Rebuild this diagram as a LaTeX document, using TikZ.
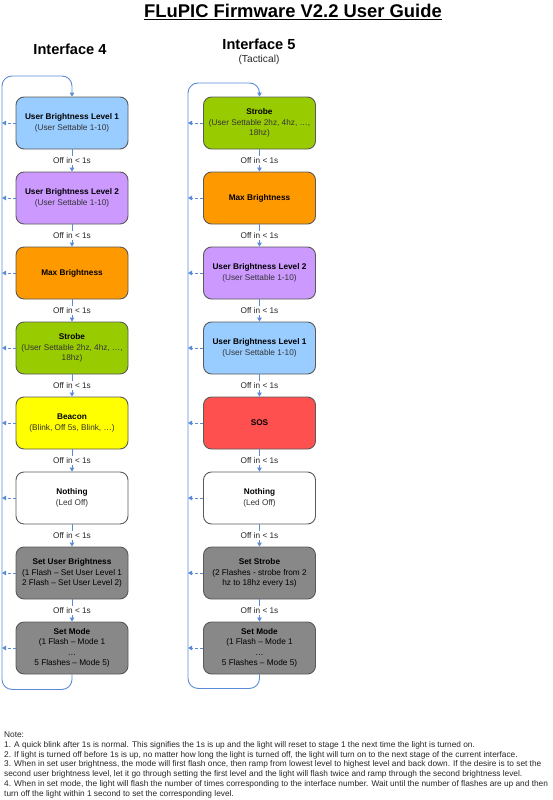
\documentclass[tikz,border=0pt]{standalone}
\usepackage{fontspec}
\setmainfont{Liberation Sans}
\usetikzlibrary{arrows.meta}
\definecolor{lineblue}{RGB}{91,139,214}
\definecolor{cblue}{RGB}{153,204,255}
\definecolor{cpurple}{RGB}{204,153,255}
\definecolor{corange}{RGB}{255,153,0}
\definecolor{cgreen}{RGB}{153,204,0}
\definecolor{cyellow}{RGB}{255,255,0}
\definecolor{cred}{RGB}{255,80,80}
\definecolor{cgray}{RGB}{136,136,136}
\definecolor{bordergray}{RGB}{90,90,90}
\newcommand{\subtxt}[1]{{\color{black!80}#1}}
\begin{document}
\begin{tikzpicture}[x=1pt,y=-1pt,
  state/.style={draw=bordergray, line width=0.9pt, rounded corners=8pt,
    minimum width=112pt, minimum height=52pt, inner sep=0pt, align=center,
    font=\fontsize{8.25}{10.3}\selectfont, text=black},
  flow/.style={draw=lineblue, line width=0.9pt, -{Triangle[length=4pt,width=4.5pt]}},
  back/.style={draw=lineblue, line width=0.9pt, dash pattern=on 3pt off 2pt,
    -{Triangle[length=4pt,width=4.5pt]}},
  loop/.style={draw=lineblue, line width=0.9pt, rounded corners=10pt,
    -{Triangle[length=4pt,width=4.5pt]}},
  lbl/.style={fill=white, inner sep=1pt, font=\fontsize{8.25}{10}\selectfont, text=black!85},
  note/.style={anchor=base west, inner sep=0pt, font=\fontsize{8.3}{9.8}\selectfont, text=black!85}
]
\useasboundingbox (0,0) rectangle (553,800);

% title
\node[anchor=base, font=\bfseries\fontsize{18.4}{20}\selectfont] (title) at (293,18)
  {\underline{FLuPIC Firmware V2.2 User Guide}};
\node[anchor=base, font=\bfseries\fontsize{14.6}{16}\selectfont] (if4) at (70,55) {Interface 4};
\node[anchor=base, font=\bfseries\fontsize{14.6}{16}\selectfont] (if5) at (259,49) {Interface 5};
\node[anchor=base, font=\fontsize{10.2}{12}\selectfont, text=black!85] (tac) at (259,62.5) {(Tactical)};

% left column
\node[state, fill=cblue]   (L1) at (72,123) {\textbf{User Brightness Level 1}\\\subtxt{(User Settable 1-10)}};
\node[state, fill=cpurple] (L2) at (72,198) {\textbf{User Brightness Level 2}\\\subtxt{(User Settable 1-10)}};
\node[state, fill=corange] (L3) at (72,273) {\textbf{Max Brightness}};
\node[state, fill=cgreen]  (L4) at (72,348) {\textbf{Strobe}\\\subtxt{(User Settable 2hz, 4hz, …,}\\\subtxt{18hz)}};
\node[state, fill=cyellow] (L5) at (72,423) {\textbf{Beacon}\\\subtxt{(Blink, Off 5s, Blink, …)}};
\node[state, fill=white]   (L6) at (72,498) {\textbf{Nothing}\\\subtxt{(Led Off)}};
\node[state, fill=cgray]   (L7) at (72,573) {\textbf{Set User Brightness}\\(1 Flash – Set User Level 1\\2 Flash – Set User Level 2)};
\node[state, fill=cgray]   (L8) at (72,648) {\textbf{Set Mode}\\(1 Flash – Mode 1\\…\\5 Flashes – Mode 5)};

% right column
\node[state, fill=cgreen]  (R1) at (259.5,123) {\textbf{Strobe}\\\subtxt{(User Settable 2hz, 4hz, …,}\\\subtxt{18hz)}};
\node[state, fill=corange] (R2) at (259.5,198) {\textbf{Max Brightness}};
\node[state, fill=cpurple] (R3) at (259.5,273) {\textbf{User Brightness Level 2}\\\subtxt{(User Settable 1-10)}};
\node[state, fill=cblue]   (R4) at (259.5,348) {\textbf{User Brightness Level 1}\\\subtxt{(User Settable 1-10)}};
\node[state, fill=cred]    (R5) at (259.5,423) {\textbf{SOS}};
\node[state, fill=white]   (R6) at (259.5,498) {\textbf{Nothing}\\\subtxt{(Led Off)}};
\node[state, fill=cgray]   (R7) at (259.5,573) {\textbf{Set Strobe}\\(2 Flashes - strobe from 2\\hz to 18hz every 1s)};
\node[state, fill=cgray]   (R8) at (259.5,648) {\textbf{Set Mode}\\(1 Flash – Mode 1\\…\\5 Flashes – Mode 5)};

% loop coordinates
\coordinate (lx) at (2,0);
\coordinate (rx) at (188,0);
\coordinate (ltop) at (2,76);
\coordinate (rtop) at (188,83);

% forward connectors
\foreach \a/\b in {1/2,2/3,3/4,4/5,5/6,6/7,7/8}{
  \draw[flow] (L\a.south) -- node[lbl]{Off in < 1s} (L\b.north);
  \draw[flow] (R\a.south) -- node[lbl]{Off in < 1s} (R\b.north);
}

% return loops
\draw[loop] (L8.south) -- ++(0,15) -| (ltop) -| (L1.north);
\draw[loop] (R8.south) -- ++(0,14) -| (rtop) -| (R1.north);

% dashed returns
\foreach \i in {1,...,8}{
  \draw[back] (L\i.west) -- (L\i.west -| lx);
  \draw[back] (R\i.west) -- (R\i.west -| rx);
}

% notes
\node[note] (n0) at (4,737.5) {Note:};
\node[note] (n1) at (4,747.3) {1. A quick blink after 1s is normal. This signifies the 1s is up and the light will reset to stage 1 the next time the light is turned on.};
\node[note] (n2) at (4,757.1) {2. If light is turned off before 1s is up, no matter how long the light is turned off, the light will turn on to the next stage of the current interface.};
\node[note] (n3) at (4,766.9) {3. When in set user brightness, the mode will first flash once, then ramp from lowest level to highest level and back down. If the desire is to set the};
\node[note] (n4) at (4,776.7) {second user brightness level, let it go through setting the first level and the light will flash twice and ramp through the second brightness level.};
\node[note] (n5) at (4,786.5) {4. When in set mode, the light will flash the number of times corresponding to the interface number. Wait until the number of flashes are up and then};
\node[note] (n6) at (4,796.3) {turn off the light within 1 second to set the corresponding level.};
\end{tikzpicture}
\end{document}
